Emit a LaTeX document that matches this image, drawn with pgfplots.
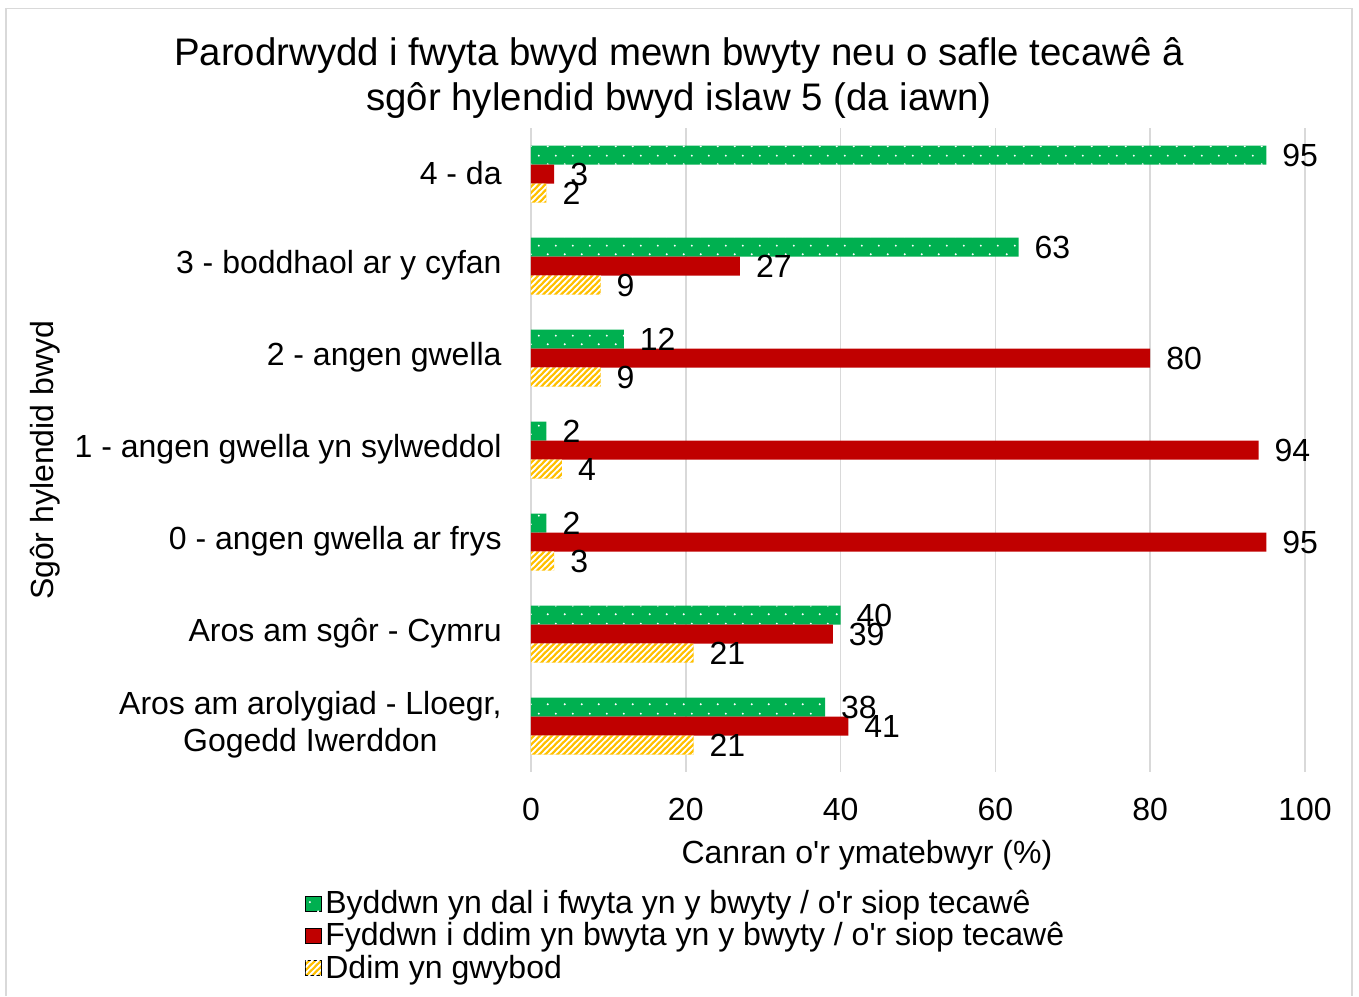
\documentclass[border=0pt]{standalone}
\usepackage{pgfplots}
\pgfplotsset{compat=1.18}
\usepackage{fontspec}
\setmainfont{Liberation Sans}
\usetikzlibrary{patterns}
\definecolor{cgreen}{HTML}{00B050}
\definecolor{cred}{HTML}{C00000}
\definecolor{cyellow}{HTML}{FFC000}
\definecolor{cgrid}{HTML}{D9D9D9}
\pgfdeclarepatternformonly{sparsedots}{\pgfpointorigin}{\pgfpoint{8.5pt}{9pt}}{\pgfpoint{8.5pt}{9pt}}{
    \pgfpathcircle{\pgfpoint{2pt}{2.5pt}}{0.55pt}
    \pgfpathcircle{\pgfpoint{6.25pt}{7pt}}{0.55pt}
    \pgfusepath{fill}
}
\pgfdeclarepatternformonly{hatch}{\pgfpoint{-1pt}{-1pt}}{\pgfpoint{4pt}{4pt}}{\pgfpoint{3pt}{3pt}}{
    \pgfsetlinewidth{0.8pt}
    \pgfpathmoveto{\pgfpoint{-1pt}{-1pt}}
    \pgfpathlineto{\pgfpoint{4pt}{4pt}}
    \pgfusepath{stroke}
}
\pgfplotstableread{
y green red yellow
0 95 3 2
1 63 27 9
2 12 80 9
3 2 94 4
4 2 95 3
5 40 39 21
6 38 41 21
}\datatable
\begin{document}
\begin{tikzpicture}
\begin{axis}[
  at={(0,0)}, anchor=south west,
  scale only axis,
  width=387pt, height=322pt,
  xbar,
  bar width=9.5pt,
  xmin=0, xmax=100,
  ymin=-0.5, ymax=6.5,
  y dir=reverse,
  /pgf/number format/assume math mode=true,
  xtick={0,20,...,100},
  ytick={0,1,2,3,4,5,6},
  yticklabels={4 - da,3 - boddhaol ar y cyfan,2 - angen gwella,1 - angen gwella yn sylweddol,0 - angen gwella ar frys,Aros am sgôr - Cymru,{Aros am arolygiad - Lloegr,\\Gogedd Iwerddon}},
  yticklabel style={align=center, inner sep=0pt, xshift=-14.5pt, yshift=0.4pt, font=\fontsize{16}{18.5}\selectfont},
  xticklabel style={font=\fontsize{16}{19}\selectfont, inner sep=0pt, yshift=-13pt},
  major tick length=0pt,
  axis line style={draw=none},
  xmajorgrids,
  grid style={cgrid, line width=0.8pt},
  xlabel={Canran o\textquotesingle r ymatebwyr (\%)},
  xlabel style={at={(axis description cs:0.434,0)}, anchor=center, yshift=-41.5pt, font=\fontsize{16}{19}\selectfont},
  ylabel={Sgôr hylendid bwyd},
  ylabel style={at={(axis description cs:-0.628,0.484)}, anchor=center, rotate=0, font=\fontsize{16}{19}\selectfont},
  nodes near coords,
  every node near coord/.append style={font=\fontsize{16}{19}\selectfont, text=black, xshift=4.5pt},
  legend style={at={(-0.292,-0.177)}, anchor=north west, draw=none, fill=none,
    font=\fontsize{16}{19}\selectfont, row sep=-1pt, inner sep=0pt,
    /tikz/every even column/.append style={column sep=7.5pt}},
  legend cell align=left,
  legend image code/.code={\draw[#1] (0pt,-3.8pt) rectangle (7.6pt,3.8pt);},
  clip=false,
]
\addplot[draw=none, fill=cgreen, bar shift=9.5pt, postaction={pattern=sparsedots, pattern color=white}] table[x=green, y=y] {\datatable};
\addplot[draw=none, fill=cred, bar shift=0pt] table[x=red, y=y] {\datatable};
\addplot[draw=none, fill=cyellow, bar shift=-9.5pt, postaction={pattern=hatch, pattern color=white}] table[x=yellow, y=y] {\datatable};
\legend{Byddwn yn dal i fwyta yn y bwyty / o\textquotesingle r siop tecawê, Fyddwn i ddim yn bwyta yn y bwyty / o\textquotesingle r siop tecawê, Ddim yn gwybod}
\end{axis}
\node[align=center, font=\fontsize{19.2}{22.5}\selectfont] at (74pt,346.75pt) {Parodrwydd i fwyta bwyd mewn bwyty neu o safle tecawê â\\sgôr hylendid bwyd islaw 5 (da iawn)};
\draw[cgrid, line width=0.8pt] (-262.5pt,-112pt) -- (-262.5pt,381.75pt) -- (410.5pt,381.75pt) -- (410.5pt,-112pt);
\useasboundingbox (-265.5pt,-112pt) rectangle (414pt,386pt);
\end{tikzpicture}
\end{document}
